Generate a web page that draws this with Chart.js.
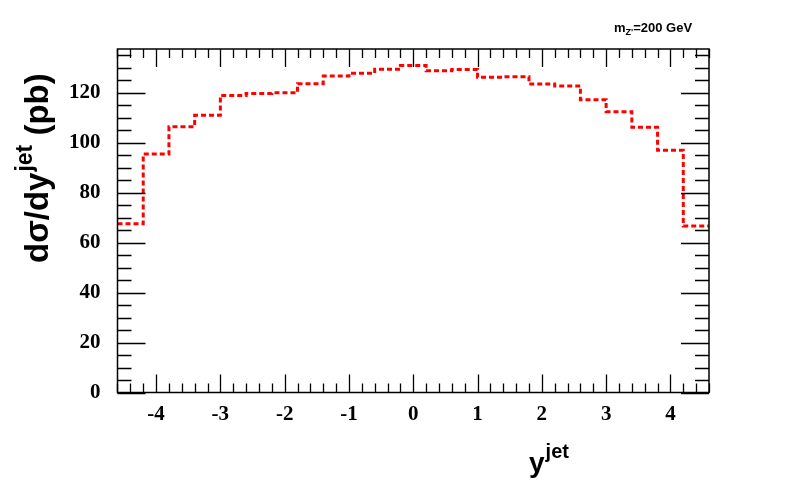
<!DOCTYPE html>
<html>
<head>
<meta charset="utf-8">
<script src="https://cdn.jsdelivr.net/npm/chart.js@4/dist/chart.umd.min.js"></script>
<style>
  html, body { margin: 0; padding: 0; background: #fff; }
  #wrap { width: 788px; height: 492px; }
</style>
</head>
<body>
<div id="wrap"><canvas id="myChart" width="788" height="492"></canvas></div>
<script>
// bin edges of the histogram (23 bins of 0.4)
const binEdges = [-4.6, -4.2, -3.8, -3.4, -3.0, -2.6, -2.2, -1.8, -1.4, -1.0, -0.6, -0.2,
                  0.2, 0.6, 1.0, 1.4, 1.8, 2.2, 2.6, 3.0, 3.4, 3.8, 4.2, 4.6];
// d sigma / dy (pb) per bin
const values = [67.5, 95.4, 106.3, 110.9, 118.8, 119.6, 119.9, 123.5, 126.6, 127.7, 129.3, 130.8,
                128.7, 129.2, 126.1, 126.3, 123.4, 122.6, 117.1, 112.3, 106.1, 96.9, 66.6];
const xTickLabels = [-4, -3, -2, -1, 0, 1, 2, 3, 4];
const yTickLabels = [0, 20, 40, 60, 80, 100, 120];

// step points: each bin starts at its left edge, last point closes the final bin
const points = values.map((v, i) => ({ x: binEdges[i], y: v }));
points.push({ x: binEdges[binEdges.length - 1], y: values[values.length - 1] });

const sansBold = 'bold {s}px "Liberation Sans", Arial, sans-serif';
function sf(s) { return sansBold.replace('{s}', s); }

// ROOT style frame with inward ticks on all four sides, plus titles
const rootFrame = {
  id: 'rootFrame',
  afterDraw(chart) {
    const ctx = chart.ctx;
    const a = chart.chartArea;
    const xs = chart.scales.x, ys = chart.scales.y;
    ctx.save();
    ctx.strokeStyle = '#000';
    ctx.lineWidth = 1.5;
    ctx.strokeRect(a.left, a.top, a.right - a.left, a.bottom - a.top);

    ctx.lineWidth = 1.3;
    ctx.beginPath();
    // x ticks every 0.2, major at integers
    for (let k = -23; k <= 23; k++) {
      const v = k * 0.2;
      const px = Math.round(xs.getPixelForValue(v)) + 0.5;
      const major = (k % 5 === 0);
      const len = major ? 18 : 9;
      ctx.moveTo(px, a.bottom); ctx.lineTo(px, a.bottom - len);
      ctx.moveTo(px, a.top); ctx.lineTo(px, a.top + len);
    }
    // y ticks every 5, major every 20
    for (let v = 0; v <= 135; v += 5) {
      const py = Math.round(ys.getPixelForValue(v)) + 0.5;
      const major = (v % 20 === 0);
      const len = major ? 28 : 14;
      ctx.moveTo(a.left, py); ctx.lineTo(a.left + len, py);
      ctx.moveTo(a.right, py); ctx.lineTo(a.right - len, py);
    }
    ctx.stroke();

    ctx.fillStyle = '#000';
    ctx.textBaseline = 'alphabetic';

    // x title: y^jet
    ctx.textAlign = 'left';
    ctx.font = sf(28);
    const yx = 529, yb = 472;
    ctx.fillText('y', yx, yb);
    const yw = ctx.measureText('y').width;
    ctx.font = sf(20);
    ctx.fillText('jet', yx + yw + 1, yb - 14);

    // y title: dσ/dy^jet (pb), rotated, ending near the top
    ctx.save();
    ctx.translate(48, 263);
    ctx.rotate(-Math.PI / 2);
    ctx.textAlign = 'left';
    ctx.font = sf(33);
    ctx.fillText('d\u03c3/dy', 0, 0);
    let w = ctx.measureText('d\u03c3/dy').width;
    ctx.font = sf(23);
    ctx.fillText('jet', w + 1, -16);
    w += ctx.measureText('jet').width + 1;
    ctx.font = sf(33);
    ctx.fillText(' (pb)', w, 0);
    ctx.restore();

    // top-right label m_Z'=200 GeV
    ctx.font = sf(13);
    let tx = 614;
    const tb = 32;
    ctx.fillText('m', tx, tb);
    tx += ctx.measureText('m').width;
    ctx.font = sf(9);
    ctx.fillText("Z'", tx, tb + 3);
    tx += ctx.measureText("Z'").width;
    ctx.font = sf(13);
    ctx.fillText('=200 GeV', tx, tb);
    ctx.restore();
  }
};

const config = {
  type: 'line',
  data: {
    datasets: [{
      data: points,
      stepped: 'before',
      borderColor: '#ff0000',
      borderWidth: 3,
      borderDash: [5, 3],
      pointRadius: 0,
      fill: false
    }]
  },
  options: {
    responsive: false,
    animation: false,
    layout: { padding: { top: 49, right: 79, left: 0, bottom: 0 } },
    plugins: { legend: { display: false }, tooltip: { enabled: false } },
    scales: {
      x: {
        type: 'linear',
        min: -4.6,
        max: 4.6,
        grid: { display: false, drawTicks: false },
        border: { display: false },
        afterBuildTicks: s => { s.ticks = xTickLabels.map(v => ({ value: v })); },
        afterFit: s => { s.height = 99.5; },
        ticks: {
          color: '#000',
          padding: 9,
          maxRotation: 0,
          autoSkip: false,
          font: { family: '"Liberation Serif", "Times New Roman", serif', weight: 'bold', size: 21 }
        }
      },
      y: {
        type: 'linear',
        min: 0,
        max: 137.4,
        grid: { display: false, drawTicks: false },
        border: { display: false },
        afterBuildTicks: s => { s.ticks = yTickLabels.map(v => ({ value: v })); },
        afterFit: s => { s.width = 117.5; },
        ticks: {
          color: '#000',
          padding: 17,
          autoSkip: false,
          font: { family: '"Liberation Serif", "Times New Roman", serif', weight: 'bold', size: 21 }
        }
      }
    }
  },
  plugins: [rootFrame]
};

const myChart = new Chart(document.getElementById('myChart'), config);
</script>
</body>
</html>
